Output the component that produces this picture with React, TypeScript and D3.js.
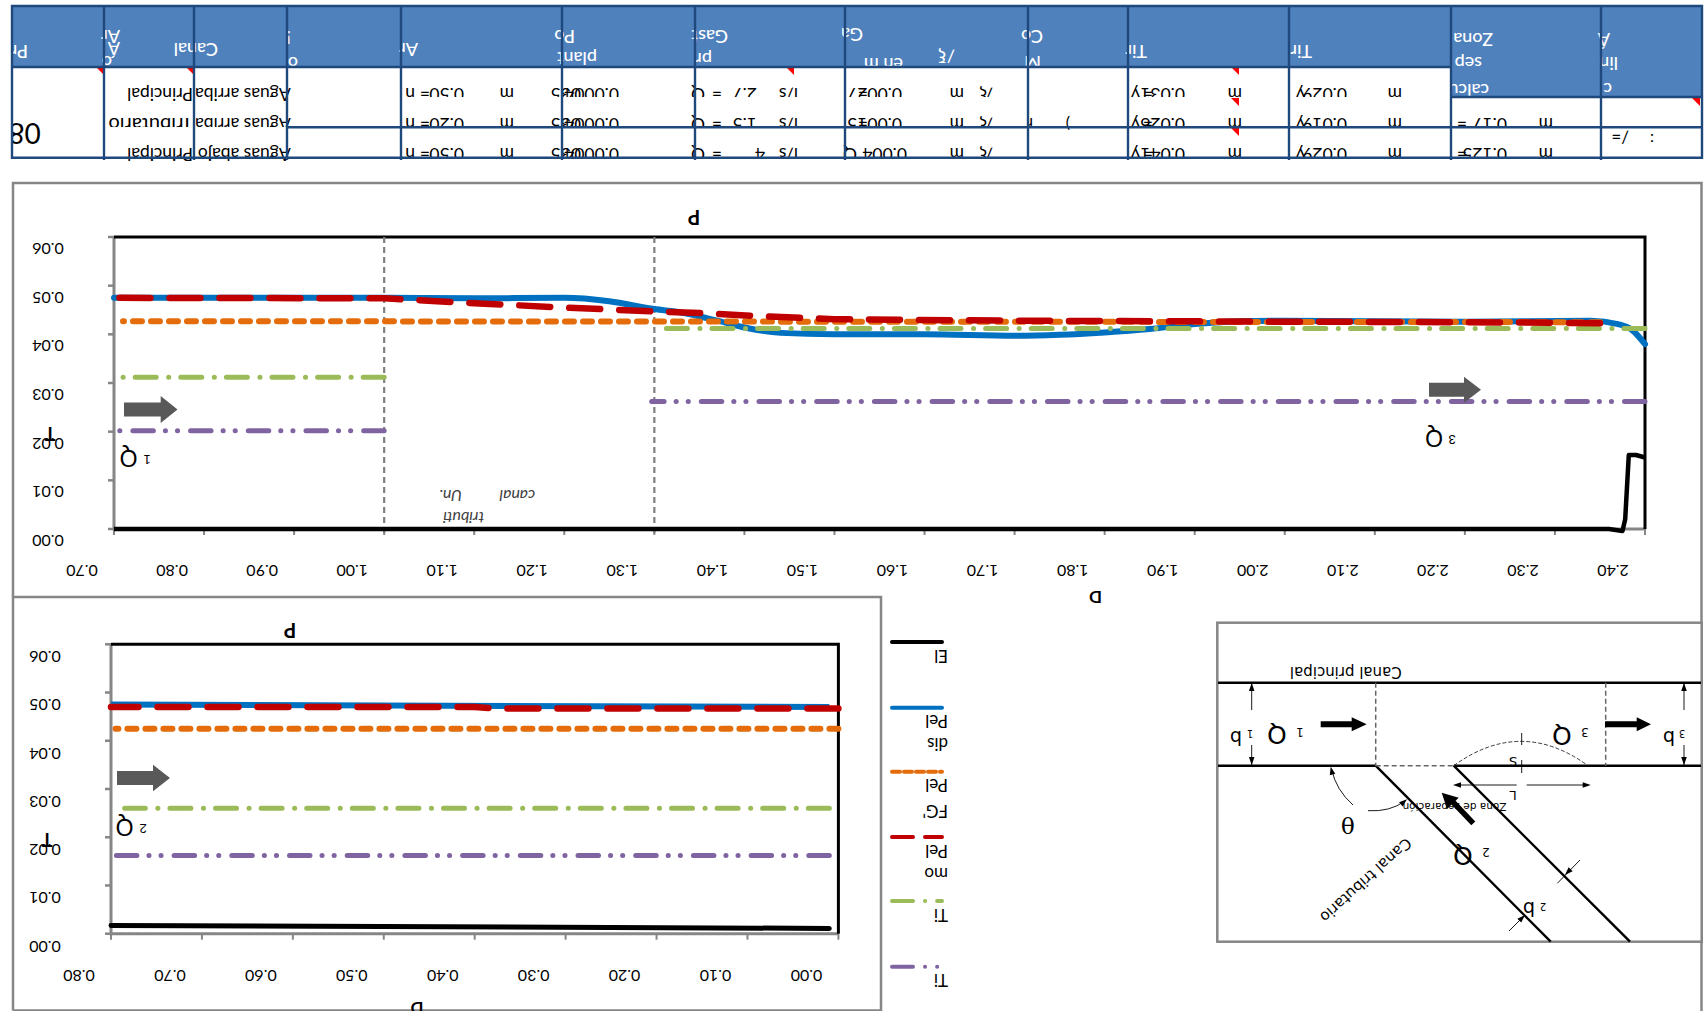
import React from "react";
import * as d3 from "d3";

// ---------- data ----------
const mainXTicks = [0.7,0.8,0.9,1.0,1.1,1.2,1.3,1.4,1.5,1.6,1.7,1.8,1.9,2.0,2.1,2.2,2.3,2.4];
const lowerXTicks = [0.8,0.7,0.6,0.5,0.4,0.3,0.2,0.1,0.0];
const yTicks = [0,0.01,0.02,0.03,0.04,0.05,0.06];

const mainBlueX = [0.7,1.0,1.1,1.2,1.25,1.3,1.33,1.37,1.4,1.44,1.5,1.6,1.7,1.75,1.8,1.85,1.9,1.95,2.0,2.2,2.34,2.37,2.385,2.4];
const mainBlueY = [0.0475,0.0475,0.0474,0.0475,0.0468,0.0452,0.0445,0.0428,0.0414,0.0403,0.04,0.04,0.0397,0.0399,0.0404,0.0411,0.0421,0.0427,0.0428,0.0426,0.0428,0.0421,0.041,0.038];
const mainRedX = [0.7,1.0,1.1,1.2,1.3,1.36,1.42,1.5,1.7,2.0,2.2,2.35];
const mainRedY = [0.0475,0.0474,0.0464,0.0455,0.0447,0.0443,0.0437,0.0431,0.0428,0.0426,0.0425,0.0423];
const mainOrangeX = [0.71,2.35];
const mainOrangeY = [0.0427,0.0425];
const mainGreenLeftX = [0.71,1.0];
const mainGreenLeftY = [0.0312,0.0312];
const mainGreenRightX = [1.305,2.4];
const mainGreenRightY = [0.0412,0.0412];
const mainPurpleLeftX = [0.7,1.0];
const mainPurpleLeftY = [0.0202,0.0202];
const mainPurpleRightX = [1.297,2.4];
const mainPurpleRightY = [0.0262,0.0262];
const mainBlackX = [0.7,2.36,2.375,2.378,2.382,2.39,2.4];
const mainBlackY = [0,0,-0.0004,0.002,0.0152,0.0152,0.0147];
const dividers = [1.0,1.3];

const lowBlueX = [0.8,0.01];
const lowBlueY = [0.0475,0.047];
const lowRedX = [0.8,0.4,0.38,0];
const lowRedY = [0.047,0.047,0.0467,0.0467];
const lowOrangeX = [0.795,0];
const lowOrangeY = [0.0425,0.0425];
const lowGreenX = [0.785,0.01];
const lowGreenY = [0.026,0.026];
const lowPurpleX = [0.8,0.01];
const lowPurpleY = [0.0162,0.0162];
const lowBlackX = [0.8,0.01];
const lowBlackY = [0.0017,0.0011];

const BLUE = "#0070C0", ORANGE = "#E46C0A", RED = "#C00000", GREEN = "#9BBB59", PURPLE = "#8064A2";
const dashOrange = "9 9", dashRed = "31 19", dashGreen = "21 12 0.1 12.5", dashPurple = "20.5 13 0.1 12 0.1 12";

const tableCols = [12,104,194,287,401,562,695,845,1028,1128,1289,1451,1601,1702];
const redMarks: [number,number][] = [[104,67],[194,67],[794,67],[1239,67],[1239,98],[1239,128],[1700,98]];

const headerTexts: [number,number,string][] = [
  [28,45,"Pr"],[120,30,"Ar"],[120,42,"Á"],[112,56,"o"],[218,43,"Canal"],[291,31,"!"],[298,57,"o"],
  [418,43,"Ar"],[575,30,"Po"],[597,52,"plant"],[728,30,"Gast"],[712,53,"pr"],[863,28,"Ga"],[903,58,"en m"],
  [955,50,"/"],[946,50,"ξ"],[1043,30,"Co"],[1041,56,"M"],[1147,45,"Tir"],[1312,45,"Tir"],
  [1493,33,"Zona"],[1482,57,"sep"],[1489,84,"calcu"],[1610,33,"Á"],[1618,57,"lin"],[1612,83,"c"],
];
const rowY = [88,118,148];
const rowClip = [97,127,157];
const canalNames = ["Principal","Tributario","Principal"];
const aguasNames = ["Aguas arriba","Aguas arriba","Aguas abajo"];
const anchos = ["0.50","0.20","0.50"];
const pendientes = ["0.0004","0.0004","0.0004"];
const gastosLs = ["2.7","1.5","4"];
const gastosLsX = [757,757,765];
const gastosM3 = ["0.0027","0.0015","0.004"];
const gastosM3X = [902,902,907];
const tiranteA = ["0.031","0.026","0.041"];
const tiranteB = ["0.029","0.019","0.029"];

const F = "Lato, Carlito, sans-serif";
const D = "'Liberation Sans', Arial, sans-serif";

const R = ({x,y,size=16,fill="#000",w,anchor="start",family=F,style,children}:any) => (
  <text x={x} y={y} transform={`rotate(180 ${x} ${y})`} fontSize={size} fill={fill} fontWeight={w} textAnchor={anchor} fontFamily={family} fontStyle={style}>{children}</text>
);

// the dashed lines of the source run from the right-hand end of the picture
const makeLine = (sx:any, sy:any) => (xs:number[], ys:number[]) => {
  const pts = xs.map((v,i)=>[sx(v),sy(ys[i])] as [number,number]).sort((a,b)=>b[0]-a[0]);
  return d3.line()(pts) as string;
};
const makeSmooth = (sx:any, sy:any) => (xs:number[], ys:number[]) =>
  d3.line<number>().x((d)=>sx(d)).y((_,i)=>sy(ys[i])).curve(d3.curveMonotoneX)(xs) as string;

const Arrow = ({x0,x1,xh,yc,half,head,fill}:any) => (
  <path d={`M${x0} ${yc-half}H${xh}V${yc-head}L${x1} ${yc}L${xh} ${yc+head}V${yc+half}H${x0}Z`} fill={fill}/>
);

function Table(){
  const [L,,,,,,,,,,,Z,,Rt] = tableCols;
  return (
    <g>
      <defs>
        <clipPath id="hdr"><path d={`M${L} 6H${Rt}V97H${Z}V67H${L}Z`}/></clipPath>
        {rowClip.map((c,i)=>(<clipPath id={`row${i}`} key={i}><rect x={0} y={60} width={1705} height={c-60}/></clipPath>))}
        <clipPath id="row2b"><rect x={0} y={60} width={1705} height={105}/></clipPath>
        <clipPath id="first"><rect x={13} y={70} width={90} height={86}/></clipPath>
      </defs>
      <path d={`M${L} 6H${Rt}V97H${Z}V67H${L}Z`} fill="#4F81BD"/>
      <g clipPath="url(#hdr)">
        {headerTexts.map(([x,y,t],i)=><R key={i} x={x} y={y} size={18} fill="#fff" w={500}>{t}</R>)}
      </g>
      <g clipPath="url(#first)"><R x={40.7} y={123} size={28}>08</R></g>
      {rowY.map((y,i)=>(
        <g key={i}>
          <g clipPath={i===1?"url(#row1)":"url(#row2b)"}>
            <R x={290.7} y={y} size={17.5}>{aguasNames[i]}</R>
            <R x={193} y={y} size={i===1?20:17.5}>{canalNames[i]}</R>
          </g>
          <g clipPath={`url(#row${i})`}>
            <R x={464} y={y} size={17.5}>{anchos[i]}</R>
            <R x={430} y={y} size={17.5}>=</R>
            <R x={415} y={y} size={17.5}>n</R>
            <R x={514} y={y} size={17.5}>m</R>
            <R x={619} y={y} size={17.5}>{pendientes[i]}</R>
            <R x={581} y={y} size={17.5}>035</R>
            <R x={705} y={y} size={17.5}>Q</R>
            <R x={722} y={y} size={17.5}>=</R>
            <R x={gastosLsX[i]} y={y} size={17.5}>{gastosLs[i]}</R>
            <R x={798} y={y} size={17.5}>l/s</R>
            <R x={gastosM3X[i]} y={y} size={17.5}>{gastosM3[i]}</R>
            <R x={i===2?857:868} y={y} size={17.5}>{i===2?"Q":"="}</R>
            <R x={964} y={y} size={17.5}>m</R>
            <R x={987} y={y} size={17.5}>ξ</R>
            <R x={993} y={y} size={17.5}>/</R>
            <R x={1185} y={y} size={17.5}>{tiranteA[i]}</R>
            <R x={1153} y={y} size={17.5}>=</R>
            <R x={1140} y={y} size={17.5}>y</R>
            <R x={1242} y={y} size={17.5}>m</R>
            <R x={1347} y={y} size={17.5}>{tiranteB[i]}</R>
            <R x={1305} y={y} size={17.5}>y</R>
            <R x={1402} y={y} size={17.5}>m</R>
            {i>0 && <R x={1507} y={y} size={17.5}>{i===1?"0.17":"0.125"}</R>}
            {i>0 && <R x={1467} y={y} size={17.5}>=</R>}
            {i>0 && <R x={1553} y={y} size={17.5}>m</R>}
          </g>
        </g>
      ))}
      <R x={1033} y={118} size={16}>r</R>
      <R x={1070} y={118} size={16}>)</R>
      <R x={1629} y={131} size={17}>/=</R>
      <R x={1654} y={134} size={16}>:</R>
      {redMarks.map(([x,y],i)=><path key={i} d={`M${x-8} ${y}H${x}V${y+8}Z`} fill="#FF0000"/>)}
      <g stroke="#1F497D" strokeWidth={2.4} fill="none">
        <path d={`M${L} 6H${Rt}V157.7H${L}Z`}/>
        <path d={`M${L} 67H${Z}M${Z} 97H${Rt}M287 127.3H${Rt}`}/>
        {tableCols.slice(1,-1).map((c,i)=><path key={i} d={`M${c} 6V160`}/>)}
      </g>
    </g>
  );
}

function AxisFrame({sx,sy,xTicks,x0,x1,title,titleX,titleY,xLabelY,labelX,tY,dX,dY,labelOff}:any){
  const top = sy(0.06), bot = sy(0);
  return (
    <g>
      <path d={`M${x0} ${top}V${bot}H${x1}`} stroke="#868686" strokeWidth={3} fill="none"/>
      {yTicks.map(t=><path key={t} d={`M${x0-6} ${sy(t)}H${x0}`} stroke="#868686" strokeWidth={2.5}/>)}
      {xTicks.map((t:number)=><path key={t} d={`M${sx(t)} ${bot}V${bot+6}`} stroke="#868686" strokeWidth={2}/>)}
      <path d={`M${x0} ${top}H${x1}V${bot}`} stroke="#000" strokeWidth={3} fill="none"/>
      {yTicks.map(t=><R key={t} x={labelX} y={sy(t)+labelOff-5.5} size={16} anchor="middle">{t.toFixed(2)}</R>)}
      {xTicks.map((t:number)=><R key={t} x={sx(t)-32} y={xLabelY-5.5} size={16} anchor="middle">{t.toFixed(2)}</R>)}
      <R x={titleX} y={titleY-7} size={20} w={700} anchor="middle">{title}</R>
      <R x={dX} y={dY-6} size={17} w={700} anchor="middle">D</R>
      <R x={labelX+2} y={tY-6} size={18} w={700} anchor="middle">T</R>
    </g>
  );
}

function MainChart(){
  const x = d3.scaleLinear().domain([0.7,2.4]).range([114,1645]);
  const y = d3.scaleLinear().domain([0,0.06]).range([529,237]);
  const lin = makeLine(x,y);
  const smooth = makeSmooth(x,y);
  return (
    <g>
      <AxisFrame sx={x} sy={y} xTicks={mainXTicks} x0={114} x1={1645} title="P" titleX={694} titleY={217} xLabelY={570} labelX={48} labelOff={11.5} tY={433} dX={1095.6} dY={597}/>
      {dividers.map(d=><path key={d} d={`M${x(d)} 237V535`} stroke="#7F7F7F" strokeWidth={2.2} strokeDasharray="6 4"/>)}
      <g fill="none">
        <path d={lin(mainPurpleLeftX,mainPurpleLeftY)} stroke={PURPLE} strokeWidth={5} strokeDasharray={dashPurple} strokeLinecap="round"/>
        <path d={lin(mainPurpleRightX,mainPurpleRightY)} stroke={PURPLE} strokeWidth={5} strokeDasharray={dashPurple} strokeLinecap="round"/>
        <path d={lin(mainGreenLeftX,mainGreenLeftY)} stroke={GREEN} strokeWidth={5} strokeDasharray={dashGreen} strokeLinecap="round"/>
        <path d={smooth(mainBlueX,mainBlueY)} stroke={BLUE} strokeWidth={6} strokeLinecap="round"/>
        <path d={lin(mainOrangeX,mainOrangeY)} stroke={ORANGE} strokeWidth={6} strokeDasharray={dashOrange} strokeLinecap="round"/>
        <path d={lin(mainGreenRightX,mainGreenRightY)} stroke={GREEN} strokeWidth={5} strokeDasharray={dashGreen} strokeLinecap="round"/>
        <path d={lin(mainRedX,mainRedY)} stroke={RED} strokeWidth={6.5} strokeDasharray={dashRed} strokeLinecap="round"/>
        <path d={lin(mainBlackX,mainBlackY)} stroke="#000" strokeWidth={4.5} strokeLinejoin="round"/>
      </g>
      <Arrow x0={124} x1={177.5} xh={160.7} yc={409.5} half={7} head={13.5} fill="#595959"/>
      <Arrow x0={1429} x1={1481} xh={1464} yc={389.7} half={7} head={13} fill="#595959"/>
      <R x={128.6} y={450} size={23} anchor="middle" family={D}>Q</R>
      <R x={147} y={455} size={13} anchor="middle" family={D}>1</R>
      <R x={1434} y={430} size={23} anchor="middle" family={D}>Q</R>
      <R x={1452} y={435} size={13} anchor="middle" family={D}>3</R>
      <R x={462} y={490} size={16} style="italic" fill="#404040">Un.</R>
      <R x={535} y={490} size={16} style="italic" fill="#404040">canal</R>
      <R x={484} y={512} size={16} style="italic" fill="#404040">tributi</R>
    </g>
  );
}

function LowerChart(){
  const x = d3.scaleLinear().domain([0.8,0]).range([111,838.4]);
  const y = d3.scaleLinear().domain([0,0.06]).range([933.7,644.3]);
  const lin = makeLine(x,y);
  return (
    <g>
      <AxisFrame sx={x} sy={y} xTicks={lowerXTicks} x0={111} x1={838.4} title="P" titleX={290} titleY={630} xLabelY={975} labelX={45} labelOff={12.3} tY={839} dX={417} dY={1008}/>
      <g fill="none">
        <path d={lin(lowPurpleX,lowPurpleY)} stroke={PURPLE} strokeWidth={5} strokeDasharray={dashPurple} strokeLinecap="round"/>
        <path d={lin(lowGreenX,lowGreenY)} stroke={GREEN} strokeWidth={5} strokeDasharray={dashGreen} strokeLinecap="round"/>
        <path d={lin(lowOrangeX,lowOrangeY)} stroke={ORANGE} strokeWidth={6} strokeDasharray={dashOrange} strokeLinecap="round"/>
        <path d={lin(lowBlueX,lowBlueY)} stroke={BLUE} strokeWidth={6}/>
        <path d={lin(lowRedX,lowRedY)} stroke={RED} strokeWidth={6.5} strokeDasharray={dashRed} strokeLinecap="round"/>
        <path d={lin(lowBlackX,lowBlackY)} stroke="#000" strokeWidth={5} strokeLinecap="round"/>
      </g>
      <Arrow x0={117} x1={170} xh={153} yc={778} half={7} head={13.3} fill="#595959"/>
      <R x={124.6} y={819} size={23} anchor="middle" family={D}>Q</R>
      <R x={143} y={824} size={13} anchor="middle" family={D}>2</R>
    </g>
  );
}

const legendItems: {y:number,color:string,dash?:string,lines:[string,number][]}[] = [
  {y:642,color:"#000",lines:[["El",650]]},
  {y:707.7,color:BLUE,lines:[["Pel",715],["dis",738]]},
  {y:771.7,color:ORANGE,dash:"8 4",lines:[["Pel",779],["FG'",805]]},
  {y:837,color:RED,dash:"21 12",lines:[["Pel",845],["mo",868]]},
  {y:901,color:GREEN,dash:"21 12 0.1 12",lines:[["Ti",909]]},
  {y:966.7,color:PURPLE,dash:"21 12 0.1 12 0.1 12",lines:[["Ti",974]]},
];

function Legend(){
  return (
    <g>
      {legendItems.map((it,i)=>(
        <g key={i}>
          <path d={`M892 ${it.y}H942`} stroke={it.color} strokeWidth={4} strokeDasharray={it.dash} strokeLinecap="round"/>
          {it.lines.map(([t,y],j)=><R key={j} x={948} y={y} size={17}>{t}</R>)}
        </g>
      ))}
    </g>
  );
}

function Diagram(){
  const F2 = "'DejaVu Sans', sans-serif";
  const head = (x:number,y:number,ang:number,len=8,hw=2.8) => {
    const c=Math.cos(ang),s=Math.sin(ang);
    return <path d={`M${x} ${y}L${x-len*c+hw*s} ${y-len*s-hw*c}L${x-len*c-hw*s} ${y-len*s+hw*c}Z`} fill="#000"/>;
  };
  return (
    <g>
      <rect x={1217.3} y={622.7} width={484.4} height={319} fill="#fff" stroke="#868686" strokeWidth={2.5}/>
      <g stroke="#000" strokeWidth={2.4} fill="none">
        <path d="M1218 682.7H1701M1218 765.7H1375.7M1453.7 765.7H1701"/>
        <path d="M1375.7 765.7L1550.7 941.7M1453.7 765.7L1630 941.7"/>
      </g>
      <g stroke="#666" strokeWidth={1.5} strokeDasharray="5 3" fill="none">
        <path d="M1375.7 682.7V765.7M1605.7 682.7V765.7M1375.7 765.7H1453.7"/>
      </g>
      <path d="M1453.7 765.7Q1521 717 1588 765.7" stroke="#222" strokeWidth={0.9} strokeDasharray="4 2" fill="none"/>
      <g stroke="#000" strokeWidth={0.9} fill="none">
        <path d="M1251.7 683V710M1251.7 745V765M1684 683V710M1684 745V765"/>
        <path d="M1521.7 733V745M1521.7 760V773"/>
        <path d="M1456 785H1516.7M1526.7 785H1588"/>
        <path d="M1580 860L1557.3 883.3M1509 931L1525 915"/>
        <path d="M1353 805Q1336 790 1331.5 769"/>
        <path d="M1368 810.7Q1390 812 1405 801"/>
      </g>
      {head(1251.7,683,-Math.PI/2)}{head(1251.7,765,Math.PI/2)}
      {head(1684,683,-Math.PI/2)}{head(1684,765,Math.PI/2)}
      {head(1453,785,Math.PI)}{head(1590.7,785,0)}
      {head(1565,875,2.35)}{head(1525,915,-0.78)}
      {head(1330.7,766.7,-1.8)}{head(1407,799.3,-0.7)}
      <Arrow x0={1320.7} x1={1366.7} xh={1351.7} yc={724.3} half={3} head={7} fill="#000"/>
      <Arrow x0={1605} x1={1651} xh={1636.7} yc={724.3} half={3} head={7} fill="#000"/>
      <path d="M1473.3 823.3L1452 801" stroke="#000" strokeWidth={5.5}/>
      <path d="M1441.7 792.7L1458.7 797.8L1447 809Z" fill="#000"/>
      <R x={1236} y={731} size={19} anchor="middle" family={F2}>b</R>
      <R x={1250} y={730} size={10} anchor="middle" family={F2}>1</R>
      <R x={1277} y={726} size={25} anchor="middle" family={F2}>Q</R>
      <R x={1300} y={728} size={12} anchor="middle" family={F2}>1</R>
      <R x={1562} y={727} size={25} anchor="middle" family={F2}>Q</R>
      <R x={1585} y={728} size={12} anchor="middle" family={F2}>3</R>
      <R x={1669} y={731} size={19} anchor="middle" family={F2}>b</R>
      <R x={1682} y={730} size={10} anchor="middle" family={F2}>3</R>
      <R x={1463} y={847} size={25} anchor="middle" family={F2}>Q</R>
      <R x={1486} y={848} size={12} anchor="middle" family={F2}>2</R>
      <R x={1529} y={902} size={19} anchor="middle" family={F2}>b</R>
      <R x={1543} y={903} size={10} anchor="middle" family={F2}>2</R>
      <R x={1345.8} y={667} size={15} anchor="middle" family={F2}>Canal principal</R>
      <R x={1513} y={757} size={13} anchor="middle" family={F2}>S</R>
      <R x={1513} y={791} size={13} anchor="middle" family={F2}>L</R>
      <R x={1454.5} y={803} size={10.5} anchor="middle" family={F2}>Zona de separación</R>
      <R x={1347.7} y={817} size={23} anchor="middle" family="'DejaVu Serif', serif">θ</R>
      <text transform="translate(1365.7 880) rotate(137.8)" fontSize={15} fontFamily={F2} textAnchor="middle" dy="5">Canal tributario</text>
    </g>
  );
}

export default function App(){
  return (
    <svg width={1705} height={1011} style={{position:"absolute",left:0,top:0,display:"block",background:"#fff"}}>
      <path d="M13 597V183H1701.5V1011" fill="none" stroke="#868686" strokeWidth={2.5}/>
      <path d="M13 1010.5V597H881V1010.5H13" fill="none" stroke="#868686" strokeWidth={2.5}/>
      <Table/>
      <MainChart/>
      <LowerChart/>
      <Legend/>
      <Diagram/>
    </svg>
  );
}
